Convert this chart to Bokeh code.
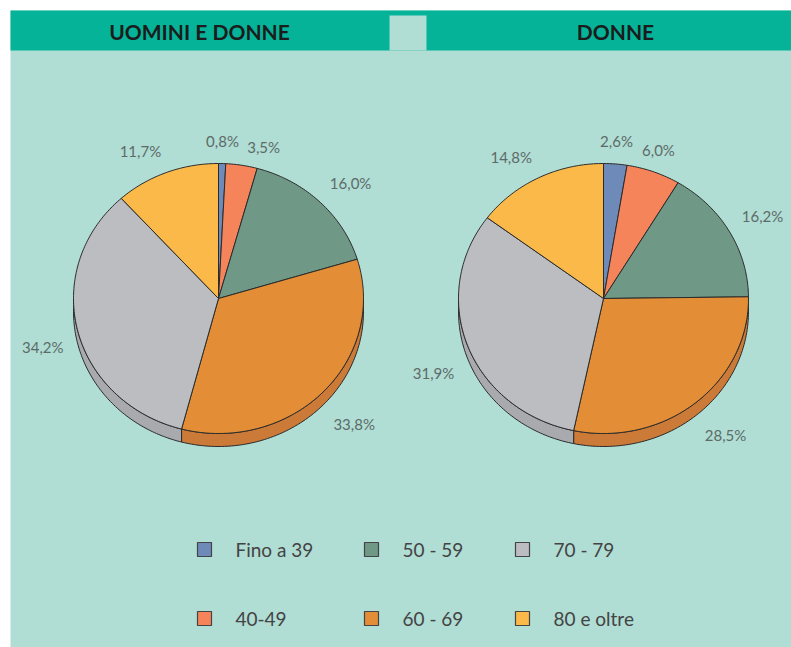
import numpy as np
from bokeh.plotting import figure
from bokeh.models import Range1d, ColumnDataSource
from bokeh.core.properties import value
from bokeh.embed import file_html
from bokeh.resources import INLINE

# ---------------- data ----------------
categories = ["Fino a 39", "40-49", "50 - 59", "60 - 69", "70 - 79", "80 e oltre"]
uomini_donne = [0.8, 3.5, 16.0, 33.8, 34.2, 11.7]
donne = [2.6, 6.0, 16.2, 28.5, 31.9, 14.8]
titles = ["UOMINI E DONNE", "DONNE"]

top_colors = ["#6d8ab8", "#f5845a", "#6f9886", "#e38e36", "#bcbdc0", "#fbb94a"]
side_colors = ["#5a7399", "#cf6f4a", "#5d8070", "#cc7a38", "#a9aaad", "#d9a040"]

W, H = 791, 647
BG = "#b0ddd4"
BAND = "#05b398"
EDGE = "#2b2b2b"
LABEL_C = "#5d6b68"

p = figure(width=W, height=H, x_range=Range1d(0, W), y_range=Range1d(H, 0),
           output_backend="svg", toolbar_location=None, min_border=0)
p.axis.visible = False
p.grid.visible = False
p.outline_line_color = None
p.background_fill_color = "white"
p.border_fill_color = "white"

# panel background and header band
p.quad(left=[10], right=[W], top=[10], bottom=[H], fill_color=BG, line_color=None)
p.quad(left=[10], right=[W], top=[10], bottom=[50], fill_color=BAND, line_color=None)
p.quad(left=[389], right=[426], top=[15], bottom=[50], fill_color=BG, line_color=None)

title_x = [199, 615]
p.text(x=title_x, y=[31, 31], text=titles, text_font=value("Lato"),
       text_font_style="bold", text_font_size="21px", text_color="#1c1c1c",
       text_align="center", text_baseline="middle")

# ---------------- pies ----------------
centers_x = [218, 603]
cy = 298
rx, ry, depth = 145, 135, 13
min_sep = np.radians(15)


def pt(cx, th, k=1.0):
    return cx + rx * k * np.sin(th), cy - ry * k * np.cos(th)


for cx, vals in zip(centers_x, [uomini_donne, donne]):
    vals = np.array(vals, dtype=float)
    frac = vals / vals.sum()
    ends = np.cumsum(frac) * 2 * np.pi
    starts = ends - frac * 2 * np.pi

    # side band (front half only)
    sx, sy, sc = [], [], []
    for a, b, c in zip(starts, ends, side_colors):
        lo, hi = max(a, np.pi / 2), min(b, 3 * np.pi / 2)
        if hi <= lo:
            continue
        th = np.linspace(lo, hi, 80)
        xs, ys = pt(cx, th)
        sx.append(list(xs) + list(xs[::-1]))
        sy.append(list(ys) + list((ys + depth)[::-1]))
        sc.append(c)
    p.patches(xs=sx, ys=sy, fill_color=sc, line_color=EDGE, line_width=1)

    # top wedges
    wx, wy = [], []
    for a, b in zip(starts, ends):
        th = np.linspace(a, b, max(4, int((b - a) * 60)))
        xs, ys = pt(cx, th)
        wx.append([cx] + list(xs))
        wy.append([cy] + list(ys))
    p.patches(xs=wx, ys=wy, fill_color=top_colors, line_color=EDGE, line_width=1)

    # labels: mid angles, spread apart when too close
    mids = list((starts + ends) / 2)
    for i in range(1, len(mids)):
        if mids[i] - mids[i - 1] < min_sep:
            mids[i] = mids[i - 1] + min_sep
    lx, ly, lt, la, lb = [], [], [], [], []
    for m, v in zip(mids, vals):
        x, y = pt(cx, m, 1.1)
        s, c = np.sin(m), np.cos(m)
        if c < 0:
            y += depth
        lx.append(x)
        ly.append(y)
        lt.append(f"{v:.1f}%".replace(".", ","))
        la.append("left" if s > 0.35 else ("right" if s < -0.35 else "center"))
        lb.append("bottom" if c > 0.35 else ("top" if c < -0.35 else "middle"))
    src = ColumnDataSource(dict(x=lx, y=ly, t=lt, a=la, b=lb))
    p.text(x="x", y="y", text="t", source=src, text_align="a", text_baseline="b",
           text_font=value("Lato"), text_font_size="15px", text_color=LABEL_C)

# ---------------- legend ----------------
col_x = [204, 371, 522]
row_y = [549, 618]
gx, gy, gc, tx = [], [], [], []
for i, (cat, col) in enumerate(zip(categories, top_colors)):
    c, r = i // 2, i % 2
    gx.append(col_x[c])
    gy.append(row_y[r])
    gc.append(col)
    tx.append(col_x[c] + 31)
p.rect(x=gx, y=gy, width=14, height=14, fill_color=gc, line_color="#444444", line_width=1.2)
p.text(x=tx, y=gy, text=categories, text_font=value("Lato"), text_font_size="19px",
       text_color="#444444", text_baseline="middle", text_align="left")

open("out.html", "w").write(file_html(p, INLINE))
